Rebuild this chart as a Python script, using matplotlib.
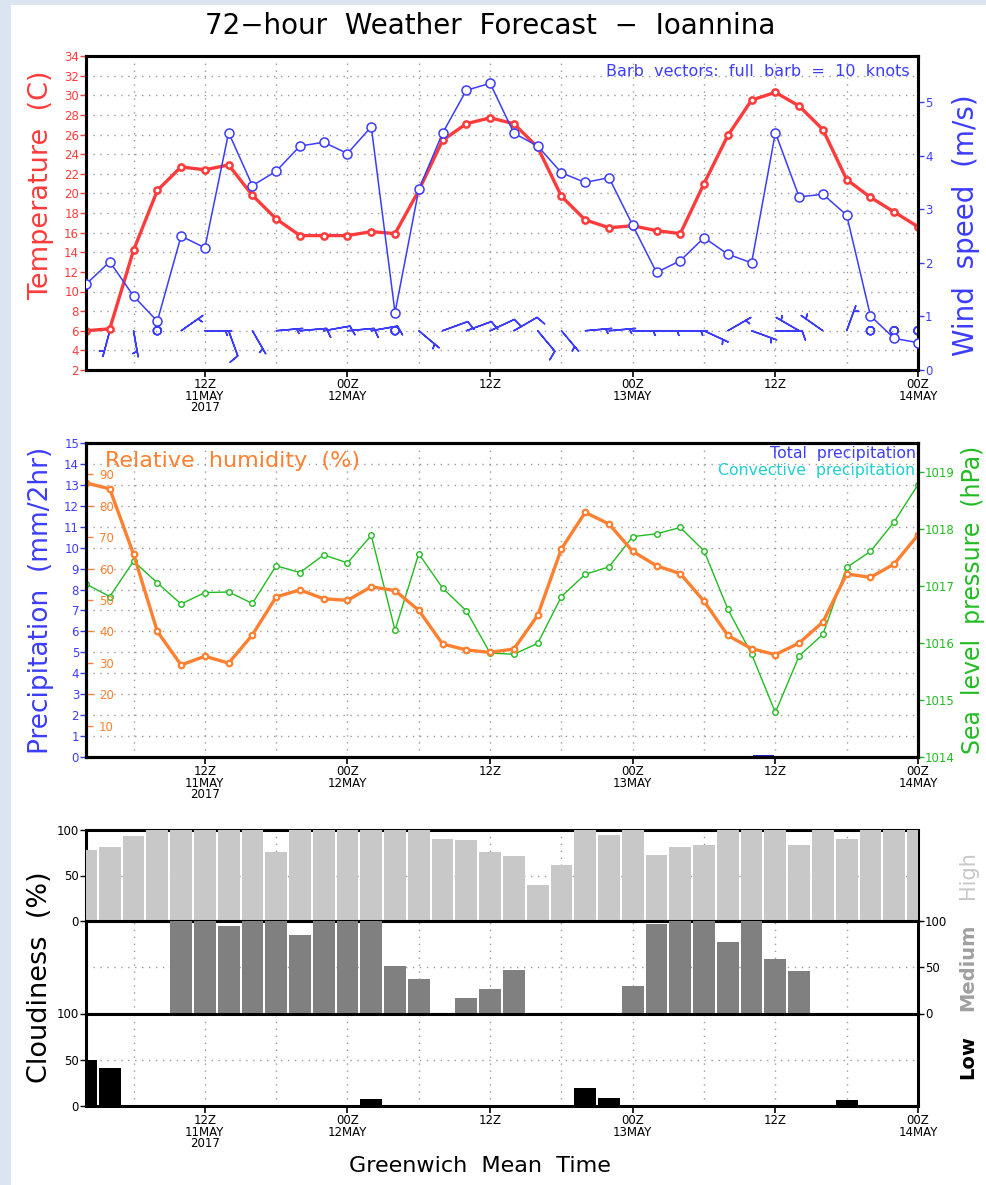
import numpy as np
import matplotlib
matplotlib.use("Agg")
import matplotlib.pyplot as plt
from matplotlib import font_manager
from matplotlib.patches import Rectangle

# ---------------- data ----------------
time_h = [2, 4, 6, 8, 10, 12, 14, 16, 18, 20, 22, 24, 26, 28, 30, 32, 34, 36,
          38, 40, 42, 44, 46, 48, 50, 52, 54, 56, 58, 60, 62, 64, 66, 68, 70, 72]

temperature = [6.0, 6.2, 14.2, 20.3, 22.7, 22.4, 22.9, 19.8, 17.4, 15.7, 15.7, 15.7,
               16.1, 15.9, 20.3, 25.4, 27.1, 27.7, 27.1, 24.7, 19.7, 17.3, 16.5, 16.7,
               16.2, 15.9, 21.0, 25.9, 29.5, 30.3, 28.9, 26.5, 21.4, 19.6, 18.1, 16.6]

wind_speed = [1.60, 2.02, 1.38, 0.91, 2.50, 2.28, 4.43, 3.44, 3.71, 4.18, 4.25, 4.04,
              4.54, 1.07, 3.37, 4.42, 5.22, 5.35, 4.42, 4.18, 3.68, 3.50, 3.59, 2.70,
              1.82, 2.04, 2.47, 2.16, 2.00, 4.43, 3.23, 3.28, 2.89, 1.01, 0.59, 0.51]

wind_dir = [190, 195, 170, 100, 55, 90, 160, 150, 85, 85, 80, 85,
            80, 90, 130, 70, 70, 65, 60, 140, 140, 85, 85, 90,
            90, 90, 115, 60, 110, 90, 300, 305, 20, 330, 340, 200]

rel_humidity = [87.3, 85.4, 64.6, 40.0, 29.3, 32.1, 29.9, 38.9, 51.0, 53.2, 50.4, 49.9,
                54.2, 53.0, 46.7, 36.0, 34.1, 33.3, 34.4, 45.1, 66.3, 77.9, 74.2, 65.5,
                60.9, 58.4, 49.6, 38.7, 34.5, 32.6, 36.3, 43.0, 58.3, 57.2, 61.5, 70.7]

slp = [1017.03, 1016.81, 1017.43, 1017.05, 1016.68, 1016.88, 1016.89, 1016.69, 1017.35,
       1017.23, 1017.54, 1017.40, 1017.88, 1016.22, 1017.56, 1016.96, 1016.56, 1015.82,
       1015.80, 1015.99, 1016.81, 1017.20, 1017.33, 1017.86, 1017.91, 1018.02, 1017.61,
       1016.59, 1015.80, 1014.78, 1015.77, 1016.15, 1017.32, 1017.60, 1018.12, 1018.77]

precip_total = [0, 0, 0, 0, 0, 0, 0, 0, 0, 0, 0, 0, 0, 0, 0, 0, 0, 0,
                0, 0, 0, 0, 0, 0, 0, 0, 0, 0, 0, 0.09, 0, 0, 0, 0, 0, 0]
precip_conv = [0, 0, 0, 0, 0, 0, 0, 0, 0, 0, 0, 0, 0, 0, 0, 0, 0, 0,
               0, 0, 0, 0, 0, 0, 0, 0, 0, 0, 0, 0.04, 0, 0, 0, 0, 0, 0]

cloud_high = [78, 81, 93, 100, 100, 100, 100, 100, 76, 100, 100, 100,
              100, 100, 100, 90, 89, 76, 71, 40, 61, 100, 95, 100,
              73, 81, 83, 100, 100, 100, 83, 100, 90, 100, 100, 100]
cloud_med = [0, 0, 0, 0, 100, 100, 95, 100, 100, 85, 100, 100,
             100, 51, 37, 0, 17, 27, 47, 0, 0, 0, 0, 30,
             97, 100, 100, 77, 100, 59, 46, 0, 0, 0, 0, 0]
cloud_low = [50, 41, 0, 0, 0, 0, 0, 0, 0, 0, 0, 0,
             8, 0, 0, 0, 0, 0, 0, 0, 0, 20, 9, 0,
             0, 0, 0, 0, 0, 0, 0, 0, 7, 0, 0, 0]

xtick_pos = [12, 24, 36, 48, 60, 72]
xtick_labels = ["12Z\n11MAY\n2017", "00Z\n12MAY", "12Z", "00Z\n13MAY", "12Z", "00Z\n14MAY"]
xgrid_minor = [6, 18, 30, 42, 54, 66]
temp_ticks = list(range(2, 35, 2))
wind_ticks = [0, 1, 2, 3, 4, 5]
precip_ticks = list(range(0, 16))
rh_ticks = [10, 20, 30, 40, 50, 60, 70, 80, 90]
slp_ticks = [1014, 1015, 1016, 1017, 1018, 1019]
cloud_ticks = [0, 50, 100]

# ---------------- style ----------------
RED = "#ff3b3b"
BLUE = "#3c3cff"
ORANGE = "#ff8030"
GREEN = "#22bb22"
CYAN = "#20d0d0"
GRIDC = "#999999"
BG = "#dbe5f1"

names = {f.name for f in font_manager.fontManager.ttflist}
NARROW = "Liberation Sans Narrow" if "Liberation Sans Narrow" in names else "DejaVu Sans"
plt.rcParams["font.family"] = ["DejaVu Sans"]

W, H = 986, 1185
fig = plt.figure(figsize=(W / 100, H / 100), dpi=100, facecolor=BG)
fig.patches.append(Rectangle((11 / W, 0), 1 - 11 / W, 1 - 5 / H, transform=fig.transFigure,
                             facecolor="white", edgecolor="none", zorder=-10))


def rect(l, t, r, b):
    return [l / W, 1 - b / H, (r - l) / W, (b - t) / H]


def style_x(ax, labels=True):
    ax.set_xlim(2, 72)
    ax.set_xticks(xtick_pos)
    ax.set_xticks(xgrid_minor, minor=True)
    if labels:
        ax.set_xticklabels(xtick_labels, fontsize=8.5, family=NARROW, linespacing=0.85)
    else:
        ax.set_xticklabels([])
    ax.tick_params(axis="x", which="major", length=5, width=1.2, pad=1)
    ax.tick_params(axis="x", which="minor", length=0)
    ax.grid(axis="x", which="both", color=GRIDC, linestyle=(0, (1, 4)), linewidth=1)
    for s in ax.spines.values():
        s.set_linewidth(2.2)


def style_y(ax, color):
    ax.tick_params(axis="y", colors=color, labelsize=8.5, length=4, width=1, pad=1)


# ---------------- title ----------------
fig.text(490 / W, 1 - 26 / H, "72\u2212hour  Weather  Forecast  \u2212  Ioannina",
         ha="center", va="center", fontsize=20)

# ---------------- panel 1: temperature & wind ----------------
ax1 = fig.add_axes(rect(86, 56, 918, 370))
style_x(ax1)
ax1.set_ylim(2, 34)
ax1.set_yticks(temp_ticks)
style_y(ax1, RED)
ax1.grid(axis="y", color=GRIDC, linestyle=(0, (1, 4)), linewidth=1)
ax1.plot(time_h, temperature, color=RED, lw=2.4, marker="o", ms=4.5, mfc="white",
         mec=RED, mew=1.8, zorder=4)

spd_kn = np.array(wind_speed) * 1.94384
rad = np.deg2rad(wind_dir)
u = -spd_kn * np.sin(rad)
v = -spd_kn * np.cos(rad)
barb_y = np.full(len(time_h), 6.0)
ax1.barbs(time_h, barb_y, u, v, color=BLUE, length=6.2, linewidth=1.1,
          sizes=dict(height=0.35, spacing=0.15, emptybar=0.0), zorder=3)
ax1.text(0.99, 0.975, "Barb  vectors:  full  barb  =  10  knots", transform=ax1.transAxes,
         ha="right", va="top", color=BLUE, fontsize=11.5)
ax1.set_ylabel("Temperature  (C)", color=RED, fontsize=19.5)
ax1.yaxis.set_label_coords((54 - 86) / 832, (370 - 185) / 314)

ax1w = ax1.twinx()
ax1w.set_ylim(0, 5.86)
ax1w.set_yticks(wind_ticks)
style_y(ax1w, BLUE)
ax1w.plot(time_h, wind_speed, color=BLUE, lw=1.1, marker="o", ms=6.5, mfc="white",
          mec=BLUE, mew=1.1, zorder=3)
ax1w.set_ylabel("Wind  speed  (m/s)", color=BLUE, fontsize=20)
ax1w.yaxis.set_label_coords((952 - 86) / 832, (370 - 225) / 314)
for s in ax1w.spines.values():
    s.set_linewidth(2.2)

# ---------------- panel 2: precipitation, RH, SLP ----------------
ax2 = fig.add_axes(rect(86, 443, 918, 757))
style_x(ax2)
ax2.set_ylim(0, 15)
ax2.set_yticks(precip_ticks)
style_y(ax2, BLUE)
ax2.grid(axis="y", color=GRIDC, linestyle=(0, (1, 4)), linewidth=1)
bar_x = np.array(time_h) - 1.0
ax2.bar(bar_x, precip_total, width=1.8, color="#1f1fd0", zorder=3)
ax2.bar(bar_x, precip_conv, width=0.5, color=CYAN, zorder=4)
ax2.set_ylabel("Precipitation  (mm/2hr)", color=BLUE, fontsize=19)
ax2.yaxis.set_label_coords((54 - 86) / 832, 0.5)
ax2.text(0.997, 0.99, "Total  precipitation", transform=ax2.transAxes, ha="right",
         va="top", color=BLUE, fontsize=11.3)
ax2.text(0.997, 0.935, "Convective  precipitation", transform=ax2.transAxes, ha="right",
         va="top", color=CYAN, fontsize=11.3)
ax2.text(0.023, 0.975, "Relative  humidity  (%)", transform=ax2.transAxes, ha="left",
         va="top", color=ORANGE, fontsize=16)

ax2p = ax2.twinx()
ax2p.set_ylim(1014, 1019.5)
ax2p.set_yticks(slp_ticks)
style_y(ax2p, GREEN)
ax2p.plot(time_h, slp, color=GREEN, lw=1.0, marker="o", ms=4, mfc="white", mec=GREEN,
          mew=1.0)
ax2p.set_ylabel("Sea  level  pressure  (hPa)", color=GREEN, fontsize=17)
ax2p.yaxis.set_label_coords((961 - 86) / 832, 0.5)
for s in ax2p.spines.values():
    s.set_linewidth(2.2)

ax2h = ax2.twinx()
ax2h.set_ylim(0, 100)
ax2h.set_yticks(rh_ticks)
ax2h.yaxis.set_ticks_position("left")
ax2h.yaxis.set_label_position("left")
ax2h.tick_params(axis="y", colors=ORANGE, labelsize=8.5, direction="in", length=5,
                 width=1, pad=-20)
ax2h.plot(time_h, rel_humidity, color=ORANGE, lw=2.4, marker="o", ms=4, mfc="white",
          mec=ORANGE, mew=1.6)
for s in ax2h.spines.values():
    s.set_linewidth(2.2)

# ---------------- panel 3: cloudiness ----------------
axH = fig.add_axes(rect(86, 830, 918, 921))
axM = fig.add_axes(rect(86, 921, 918, 1013.5))
axL = fig.add_axes(rect(86, 1013.5, 918, 1106))
for ax, vals, col in ((axH, cloud_high, "#c8c8c8"), (axM, cloud_med, "#808080"),
                      (axL, cloud_low, "black")):
    style_x(ax, labels=(ax is axL))
    ax.set_ylim(0, 100)
    ax.set_yticks(cloud_ticks)
    ax.tick_params(axis="y", labelsize=8.5, length=4, width=1, pad=1)
    ax.grid(axis="y", color=GRIDC, linestyle=(0, (1, 4)), linewidth=1)
    ax.set_axisbelow(True)
    ax.bar(time_h, vals, width=1.83, color=col, edgecolor="none", zorder=3)
    if ax is not axL:
        ax.tick_params(axis="x", which="major", length=0)
axM.yaxis.tick_right()

fig.text(40 / W, 1 - 977 / H, "Cloudiness  (%)", rotation=90, ha="center", va="center",
         fontsize=19.5)
fig.text(968 / W, 1 - 875 / H, "High", rotation=90, ha="center", va="center",
         fontsize=15, color="#c8c8c8")
fig.text(968 / W, 1 - 967 / H, "Medium", rotation=90, ha="center", va="center",
         fontsize=14, color="#a0a0a0", fontweight="bold")
fig.text(968 / W, 1 - 1057 / H, "Low", rotation=90, ha="center", va="center",
         fontsize=14, color="black", fontweight="bold")
fig.text(480 / W, 1 - 1166 / H, "Greenwich  Mean  Time", ha="center", va="center",
         fontsize=16)

fig.savefig("out.png", dpi=100, facecolor=BG)
